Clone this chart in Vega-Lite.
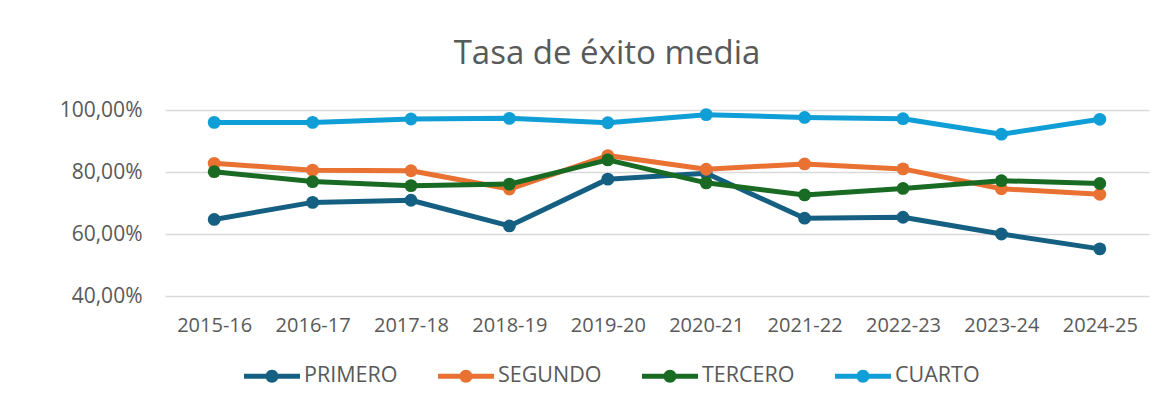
{
  "$schema": "https://vega.github.io/schema/vega-lite/v6.json",
  "autosize": {"type": "none"},
  "width": 984,
  "height": 186,
  "padding": {"left": 165, "top": 110, "right": 9, "bottom": 112},
  "background": "white",
  "config": {
    "locale": {"number": {"decimal": ",", "thousands": ".", "grouping": [3], "currency": ["", " €"]}},
    "view": {"stroke": null},
    "font": "Open Sans"
  },
  "title": {
    "text": "Tasa de éxito media",
    "fontSize": 33,
    "font": "Open Sans",
    "fontWeight": "normal",
    "color": "#595959",
    "anchor": "middle",
    "frame": "group",
    "dx": -50,
    "baseline": "alphabetic",
    "offset": 2
  },
  "data": {
    "values": [
      {"curso": "2015-16", "serie": "PRIMERO", "tasa": 0.647},
      {"curso": "2016-17", "serie": "PRIMERO", "tasa": 0.702},
      {"curso": "2017-18", "serie": "PRIMERO", "tasa": 0.709},
      {"curso": "2018-19", "serie": "PRIMERO", "tasa": 0.626},
      {"curso": "2019-20", "serie": "PRIMERO", "tasa": 0.777},
      {"curso": "2020-21", "serie": "PRIMERO", "tasa": 0.796},
      {"curso": "2021-22", "serie": "PRIMERO", "tasa": 0.651},
      {"curso": "2022-23", "serie": "PRIMERO", "tasa": 0.654},
      {"curso": "2023-24", "serie": "PRIMERO", "tasa": 0.600},
      {"curso": "2024-25", "serie": "PRIMERO", "tasa": 0.552},
      {"curso": "2015-16", "serie": "SEGUNDO", "tasa": 0.828},
      {"curso": "2016-17", "serie": "SEGUNDO", "tasa": 0.806},
      {"curso": "2017-18", "serie": "SEGUNDO", "tasa": 0.804},
      {"curso": "2018-19", "serie": "SEGUNDO", "tasa": 0.745},
      {"curso": "2019-20", "serie": "SEGUNDO", "tasa": 0.853},
      {"curso": "2020-21", "serie": "SEGUNDO", "tasa": 0.809},
      {"curso": "2021-22", "serie": "SEGUNDO", "tasa": 0.826},
      {"curso": "2022-23", "serie": "SEGUNDO", "tasa": 0.810},
      {"curso": "2023-24", "serie": "SEGUNDO", "tasa": 0.746},
      {"curso": "2024-25", "serie": "SEGUNDO", "tasa": 0.728},
      {"curso": "2015-16", "serie": "TERCERO", "tasa": 0.801},
      {"curso": "2016-17", "serie": "TERCERO", "tasa": 0.769},
      {"curso": "2017-18", "serie": "TERCERO", "tasa": 0.756},
      {"curso": "2018-19", "serie": "TERCERO", "tasa": 0.761},
      {"curso": "2019-20", "serie": "TERCERO", "tasa": 0.839},
      {"curso": "2020-21", "serie": "TERCERO", "tasa": 0.765},
      {"curso": "2021-22", "serie": "TERCERO", "tasa": 0.726},
      {"curso": "2022-23", "serie": "TERCERO", "tasa": 0.747},
      {"curso": "2023-24", "serie": "TERCERO", "tasa": 0.772},
      {"curso": "2024-25", "serie": "TERCERO", "tasa": 0.763},
      {"curso": "2015-16", "serie": "CUARTO", "tasa": 0.960},
      {"curso": "2016-17", "serie": "CUARTO", "tasa": 0.960},
      {"curso": "2017-18", "serie": "CUARTO", "tasa": 0.971},
      {"curso": "2018-19", "serie": "CUARTO", "tasa": 0.973},
      {"curso": "2019-20", "serie": "CUARTO", "tasa": 0.959},
      {"curso": "2020-21", "serie": "CUARTO", "tasa": 0.985},
      {"curso": "2021-22", "serie": "CUARTO", "tasa": 0.976},
      {"curso": "2022-23", "serie": "CUARTO", "tasa": 0.972},
      {"curso": "2023-24", "serie": "CUARTO", "tasa": 0.922},
      {"curso": "2024-25", "serie": "CUARTO", "tasa": 0.970}
    ]
  },
  "mark": {
    "type": "line",
    "strokeWidth": 5,
    "strokeCap": "round",
    "strokeJoin": "round",
    "point": {"filled": true, "size": 165, "opacity": 1}
  },
  "encoding": {
    "x": {
      "field": "curso",
      "type": "ordinal",
      "scale": {"type": "point", "padding": 0.5},
      "axis": {
        "title": null,
        "labelAngle": 0,
        "ticks": false,
        "domain": false,
        "grid": false,
        "labelPadding": 19,
        "labelFontSize": 20,
        "labelColor": "#595959",
        "labelFont": "Open Sans"
      }
    },
    "y": {
      "field": "tasa",
      "type": "quantitative",
      "scale": {"domain": [0.4, 1.0], "nice": false, "zero": false},
      "axis": {
        "title": null,
        "values": [0.4, 0.6, 0.8, 1.0],
        "format": ".2%",
        "ticks": false,
        "domain": false,
        "grid": true,
        "gridColor": "#d9d9d9",
        "gridWidth": 1.5,
        "labelPadding": 23,
        "labelFontSize": 21,
        "labelColor": "#595959",
        "labelFont": "Open Sans"
      }
    },
    "color": {
      "field": "serie",
      "type": "nominal",
      "sort": ["PRIMERO", "SEGUNDO", "TERCERO", "CUARTO"],
      "scale": {
        "domain": ["PRIMERO", "SEGUNDO", "TERCERO", "CUARTO"],
        "range": ["#156082", "#E97132", "#196B24", "#0F9ED5"]
      },
      "legend": {
        "title": null,
        "orient": "none",
        "direction": "horizontal",
        "legendX": 79,
        "legendY": 238,
        "symbolType": "M-1,-0.089L1,-0.089L1,0.089L-1,0.089Z M0.232,0A0.232,0.232,0,1,1,-0.232,0A0.232,0.232,0,1,1,0.232,0Z",
        "symbolSize": 3136,
        "symbolStrokeWidth": 0,
        "labelFontSize": 21.5,
        "labelFont": "Open Sans",
        "labelColor": "#595959",
        "labelOffset": 4,
        "columnPadding": 40,
        "encode": {
          "symbols": {
            "update": {
              "fill": {"scale": "color", "field": "value"},
              "opacity": {"value": 1}
            }
          }
        }
      }
    }
  }
}
